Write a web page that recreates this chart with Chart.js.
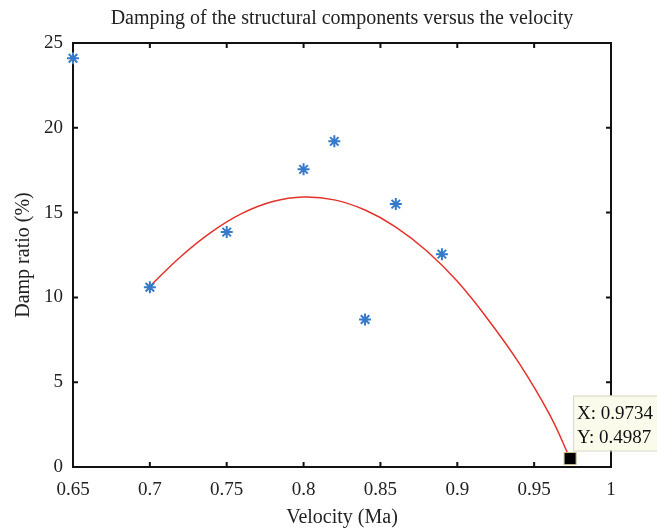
<!DOCTYPE html>
<html>
<head>
<meta charset="utf-8">
<script src="https://cdn.jsdelivr.net/npm/chart.js@4.4.1/dist/chart.umd.min.js"></script>
<style>
  body { margin: 0; background: #fff; }
  canvas { display: block; }
</style>
</head>
<body>
<canvas id="dampChart" width="657" height="530"></canvas>
<script>
// measured points
const velocity = [0.65, 0.70, 0.75, 0.80, 0.82, 0.84, 0.86, 0.89];
const dampRatio = [24.1, 10.6, 13.85, 17.55, 19.2, 8.7, 15.5, 12.55];

// fitted curve
const fitVelocity = [0.70, 0.72, 0.74, 0.76, 0.78, 0.80, 0.82, 0.84, 0.86, 0.88, 0.90, 0.92, 0.94, 0.96, 0.9734];
const fitDamp = [10.65, 12.4, 13.85, 14.95, 15.65, 15.92, 15.75, 15.15, 14.15, 12.75, 10.95, 8.7, 6.15, 3.1, 0.4987];

// data tip point
const tipVelocity = [0.9734];
const tipDamp = [0.4987];

const xTicks = [0.65, 0.7, 0.75, 0.8, 0.85, 0.9, 0.95, 1];
const yTicks = [0, 5, 10, 15, 20, 25];

const serif = '"Liberation Serif", "Times New Roman", serif';

function toPoints(xs, ys) {
  return xs.map((x, i) => ({ x: x, y: ys[i] }));
}

// box frame with inward ticks on all four sides
const framePlugin = {
  id: 'frame',
  beforeDatasetsDraw(chart) {
    const { ctx, chartArea: a, scales } = chart;
    const len = 5;
    ctx.save();
    ctx.strokeStyle = '#111';
    ctx.lineWidth = 2;
    ctx.strokeRect(a.left, a.top, a.right - a.left, a.bottom - a.top);
    ctx.beginPath();
    scales.x.ticks.forEach(t => {
      const px = scales.x.getPixelForValue(t.value);
      ctx.moveTo(px, a.bottom); ctx.lineTo(px, a.bottom - len);
      ctx.moveTo(px, a.top); ctx.lineTo(px, a.top + len);
    });
    scales.y.ticks.forEach(t => {
      const py = scales.y.getPixelForValue(t.value);
      ctx.moveTo(a.left, py); ctx.lineTo(a.left + len, py);
      ctx.moveTo(a.right, py); ctx.lineTo(a.right - len, py);
    });
    ctx.stroke();
    ctx.restore();
  }
};

// MATLAB style data tip next to the marker
const dataTipPlugin = {
  id: 'dataTip',
  afterDatasetsDraw(chart) {
    const { ctx } = chart;
    const pt = chart.getDatasetMeta(2).data[0];
    const left = pt.x + 3;
    const top = pt.y - 63;
    ctx.save();
    ctx.fillStyle = '#fbfbec';
    ctx.strokeStyle = '#d8d6c4';
    ctx.lineWidth = 1;
    ctx.fillRect(left, top, 90, 55);
    ctx.strokeRect(left + 0.5, top + 0.5, 90, 55);
    ctx.fillStyle = '#111';
    ctx.font = '19px ' + serif;
    ctx.textBaseline = 'alphabetic';
    ctx.fillText('X: ' + tipVelocity[0].toFixed(4), left + 4, top + 23);
    ctx.fillText('Y: ' + tipDamp[0].toFixed(4), left + 4, top + 47);
    ctx.restore();
  }
};

const ctx = document.getElementById('dampChart').getContext('2d');

new Chart(ctx, {
  type: 'scatter',
  data: {
    datasets: [
      {
        label: 'Measured',
        data: toPoints(velocity, dampRatio),
        pointStyle: 'star',
        pointRadius: 6,
        borderColor: '#3579c8',
        backgroundColor: '#3579c8',
        borderWidth: 2,
        showLine: false,
        clip: false,
        order: 0
      },
      {
        label: 'Fit',
        data: toPoints(fitVelocity, fitDamp),
        showLine: true,
        borderColor: '#e3322b',
        borderWidth: 1.5,
        pointRadius: 0,
        tension: 0.4,
        clip: false,
        order: 1
      },
      {
        label: 'Tip',
        data: toPoints(tipVelocity, tipDamp),
        pointStyle: 'rect',
        pointRadius: 8.5,
        backgroundColor: '#000',
        borderColor: '#c9bd92',
        borderWidth: 1,
        clip: false,
        order: 0
      }
    ]
  },
  options: {
    responsive: false,
    animation: false,
    layout: { padding: { left: 0, right: 46, top: 0, bottom: 0 } },
    plugins: {
      legend: { display: false },
      tooltip: { enabled: false },
      title: {
        display: true,
        fullSize: false,
        text: 'Damping of the structural components versus the velocity',
        color: '#222',
        font: { family: serif, size: 20, weight: 'normal', lineHeight: 1.2 },
        padding: { top: 7, bottom: 12 }
      }
    },
    scales: {
      x: {
        type: 'linear',
        min: 0.65,
        max: 1,
        afterBuildTicks: scale => { scale.ticks = xTicks.map(v => ({ value: v })); },
        afterFit: scale => { scale.height = 63; },
        grid: { display: false },
        border: { display: false },
        ticks: {
          color: '#222',
          padding: 4,
          maxRotation: 0,
          font: { family: serif, size: 19 },
          callback: v => String(v)
        },
        title: {
          display: true,
          text: 'Velocity (Ma)',
          color: '#222',
          font: { family: serif, size: 20, lineHeight: 1.2 },
          padding: { top: 0, bottom: 0 }
        }
      },
      y: {
        min: 0,
        max: 25,
        afterBuildTicks: scale => { scale.ticks = yTicks.map(v => ({ value: v })); },
        afterFit: scale => { scale.width = 73; },
        grid: { display: false },
        border: { display: false },
        ticks: {
          color: '#222',
          padding: 2,
          font: { family: serif, size: 19 },
          callback: v => String(v)
        },
        title: {
          display: true,
          text: 'Damp ratio (%)',
          color: '#222',
          font: { family: serif, size: 20, lineHeight: 1.2 },
          padding: { top: 12, bottom: 0 }
        }
      }
    }
  },
  plugins: [framePlugin, dataTipPlugin]
});
</script>
</body>
</html>
